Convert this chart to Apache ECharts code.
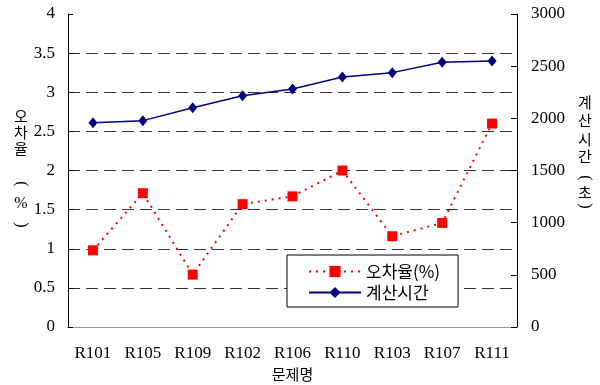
<!DOCTYPE html>
<html>
<head>
<meta charset="utf-8">
<script src="https://cdn.jsdelivr.net/npm/echarts@6/dist/echarts.min.js"></script>
<style>
html,body{margin:0;padding:0;background:#fff;}
#chart{width:600px;height:385px;}
</style>
</head>
<body>
<div id="chart"></div>
<script>
var categories = ['R101','R105','R109','R102','R106','R110','R103','R107','R111'];
var errorRate = [0.98, 1.71, 0.67, 1.57, 1.67, 2.0, 1.16, 1.33, 2.6];
var calcTime = [1958, 1978, 2102, 2217, 2281, 2396, 2438, 2537, 2550];
var errorName = '오차율(%)';
var timeName = '계산시간';
var leftTitle = ['오','차','율','(','%',')'];
var rightTitle = ['계','산','시','간','(','초',')'];
var xTitle = '문제명';

var FONT = 'Liberation Serif';
var KFONT = 'Noto Sans CJK KR';

function titleEls(chars, x, ys) {
  return chars.map(function (c, i) {
    var isParen = (c === '(' || c === ')');
    var latin = isParen || c === '%';
    return {
      type: 'text',
      x: x, y: ys[i],
      rotation: isParen ? -Math.PI / 2 : 0,
      style: {
        text: c,
        fontFamily: latin ? FONT : KFONT,
        fontSize: latin ? 16 : 15,
        fill: '#000',
        textAlign: 'center',
        textVerticalAlign: 'middle'
      }
    };
  });
}

function plain(v) { return String(v); }

var chart = echarts.init(document.getElementById('chart'));
chart.setOption({
  animation: false,
  backgroundColor: '#fff',
  grid: { left: 68, right: 83, top: 14, bottom: 58, containLabel: false, outerBoundsMode: 'none' },
  legend: {
    left: 287, top: 255,
    orient: 'vertical',
    backgroundColor: '#fff',
    borderColor: '#000',
    borderWidth: 1,
    padding: [8, 18, 6, 21],
    itemGap: 4,
    itemWidth: 52,
    itemHeight: 14,
    textStyle: { fontFamily: KFONT, fontSize: 17, color: '#000' },
    data: [errorName, timeName]
  },
  xAxis: [{
    type: 'category',
    data: categories,
    boundaryGap: true,
    axisLine: { lineStyle: { color: '#000', width: 1 } },
    axisTick: { inside: true, length: 5, lineStyle: { color: '#000' } },
    axisLabel: { fontFamily: FONT, fontSize: 17, color: '#000', margin: 18 },
    name: xTitle,
    nameLocation: 'middle',
    nameGap: 40,
    nameTextStyle: { fontFamily: KFONT, fontSize: 15, color: '#000' }
  }, {
    type: 'category',
    position: 'top',
    data: categories,
    axisLine: { lineStyle: { color: '#999', width: 1 } },
    axisTick: { show: false },
    axisLabel: { show: false }
  }],
  yAxis: [{
    type: 'value',
    min: 0, max: 4, interval: 0.5,
    axisLine: { show: true, lineStyle: { color: '#000' } },
    axisTick: { show: true, inside: true, length: 5, lineStyle: { color: '#000' } },
    axisLabel: { fontFamily: FONT, fontSize: 17, color: '#000', margin: 13, formatter: plain },
    splitLine: { show: true, showMinLine: false, showMaxLine: false, lineStyle: { color: '#333', type: [12, 6], width: 1 } }
  }, {
    type: 'value',
    min: 0, max: 3000, interval: 500,
    position: 'right',
    axisLine: { show: true, lineStyle: { color: '#000' } },
    axisTick: { show: true, inside: true, length: 6, lineStyle: { color: '#000' } },
    axisLabel: { fontFamily: FONT, fontSize: 17, color: '#000', margin: 14, formatter: plain },
    splitLine: { show: false }
  }],
  series: [{
    name: errorName,
    type: 'line',
    yAxisIndex: 0,
    data: errorRate,
    symbol: 'rect',
    symbolSize: 10,
    itemStyle: { color: '#ff0000' },
    lineStyle: { color: '#ff0000', width: 2, type: [2, 5] },
    z: 3
  }, {
    name: timeName,
    type: 'line',
    yAxisIndex: 1,
    data: calcTime,
    symbol: 'diamond',
    symbolSize: [9, 11],
    itemStyle: { color: '#000080' },
    lineStyle: { color: '#000080', width: 1.5 },
    z: 4
  }],
  graphic: titleEls(leftTitle, 21, [116, 132, 148, 184, 204, 225])
    .concat(titleEls(rightTitle, 585, [102, 120, 139, 156, 178, 192, 206]))
});
</script>
</body>
</html>
